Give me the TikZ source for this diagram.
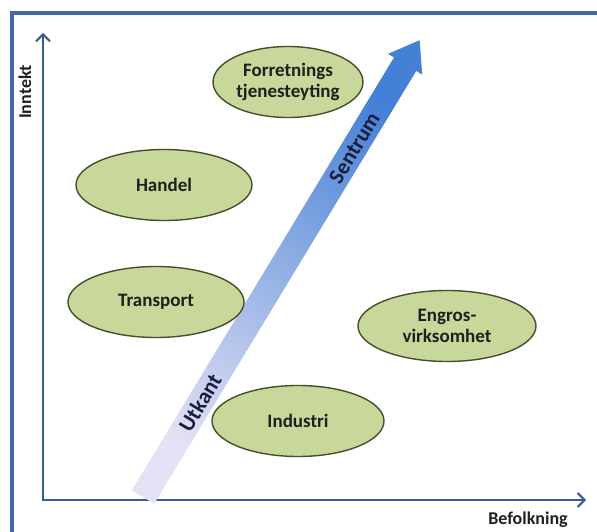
\documentclass[tikz,border=0pt]{standalone}
\usepackage{fontspec}
\setmainfont{Carlito}
\usetikzlibrary{shapes.geometric,arrows.meta}
\definecolor{rammeblaa}{RGB}{66,106,164}
\definecolor{akseblaa}{RGB}{58,92,146}
\definecolor{sektorgronn}{RGB}{199,216,154}
\definecolor{sektorkant}{RGB}{72,78,44}
\definecolor{utkantfarge}{RGB}{228,226,244}
\definecolor{sentrumfarge}{RGB}{68,128,214}
\definecolor{piltekst}{RGB}{26,30,58}
\tikzset{
  sektor/.style={ellipse,draw=sektorkant,line width=1.4pt,fill=sektorgronn,
    minimum width=#1,minimum height=71pt,inner sep=0pt,align=center,
    font=\fontsize{19}{21}\selectfont\bfseries,text=black!88},
  sektor/.default=174pt,
  akse/.style={draw=akseblaa,line width=2pt},
  akselabel/.style={font=\fontsize{18}{19}\selectfont\bfseries,text=black!88},
  pillabel/.style={font=\fontsize{22}{23}\selectfont\bfseries,
    text=piltekst,rotate=58.8}
}
\begin{document}
\begin{tikzpicture}[x=1pt,y=1pt]
  \useasboundingbox (0,0) rectangle (597,531);
  % ramme, bare topp og venstre side er med
  \draw[rammeblaa,line width=3.5pt] (12,-5) -- (12,518) -- (605,518);
  % akser
  \coordinate (origo) at (43,31);
  \coordinate (ytopp) at (43,498);
  \coordinate (xende) at (586,31);
  \draw[akse,{Straight Barb[length=7pt,width=14pt]}-{Straight Barb[length=7pt,width=14pt]}]
    (ytopp) -- (origo) -- (xende);
  \node[akselabel,rotate=90] (inntekt) at (25,439) {Inntekt};
  \node[akselabel] (befolkning) at (528,11) {Befolkning};
  % pila fra utkant til sentrum
  \begin{scope}[shift={(143,34)},rotate=58.8]
    \shade[bottom color=utkantfarge,top color=sentrumfarge,shading angle=-31.2]
      (0,-13) -- (506,-13) -- (506,-20) -- (534,0) -- (506,20) -- (506,13) -- (0,13) -- cycle;
    \node[pillabel] (utkant) at (110,0) {Utkant};
    \node[pillabel] (sentrum) at (408,0) {Sentrum};
  \end{scope}
  % sektorene
  \node[sektor=150pt] (forretning) at (288,449) {Forretnings\\tjenesteyting};
  \node[sektor=176pt] (handel) at (164,346) {Handel};
  \node[sektor=176pt] (transport) at (156,229) {Transport};
  \node[sektor=178pt] (engros) at (447,205) {Engros-\\virksomhet};
  \node[sektor=172pt] (industri) at (298,110) {Industri};
\end{tikzpicture}
\end{document}
